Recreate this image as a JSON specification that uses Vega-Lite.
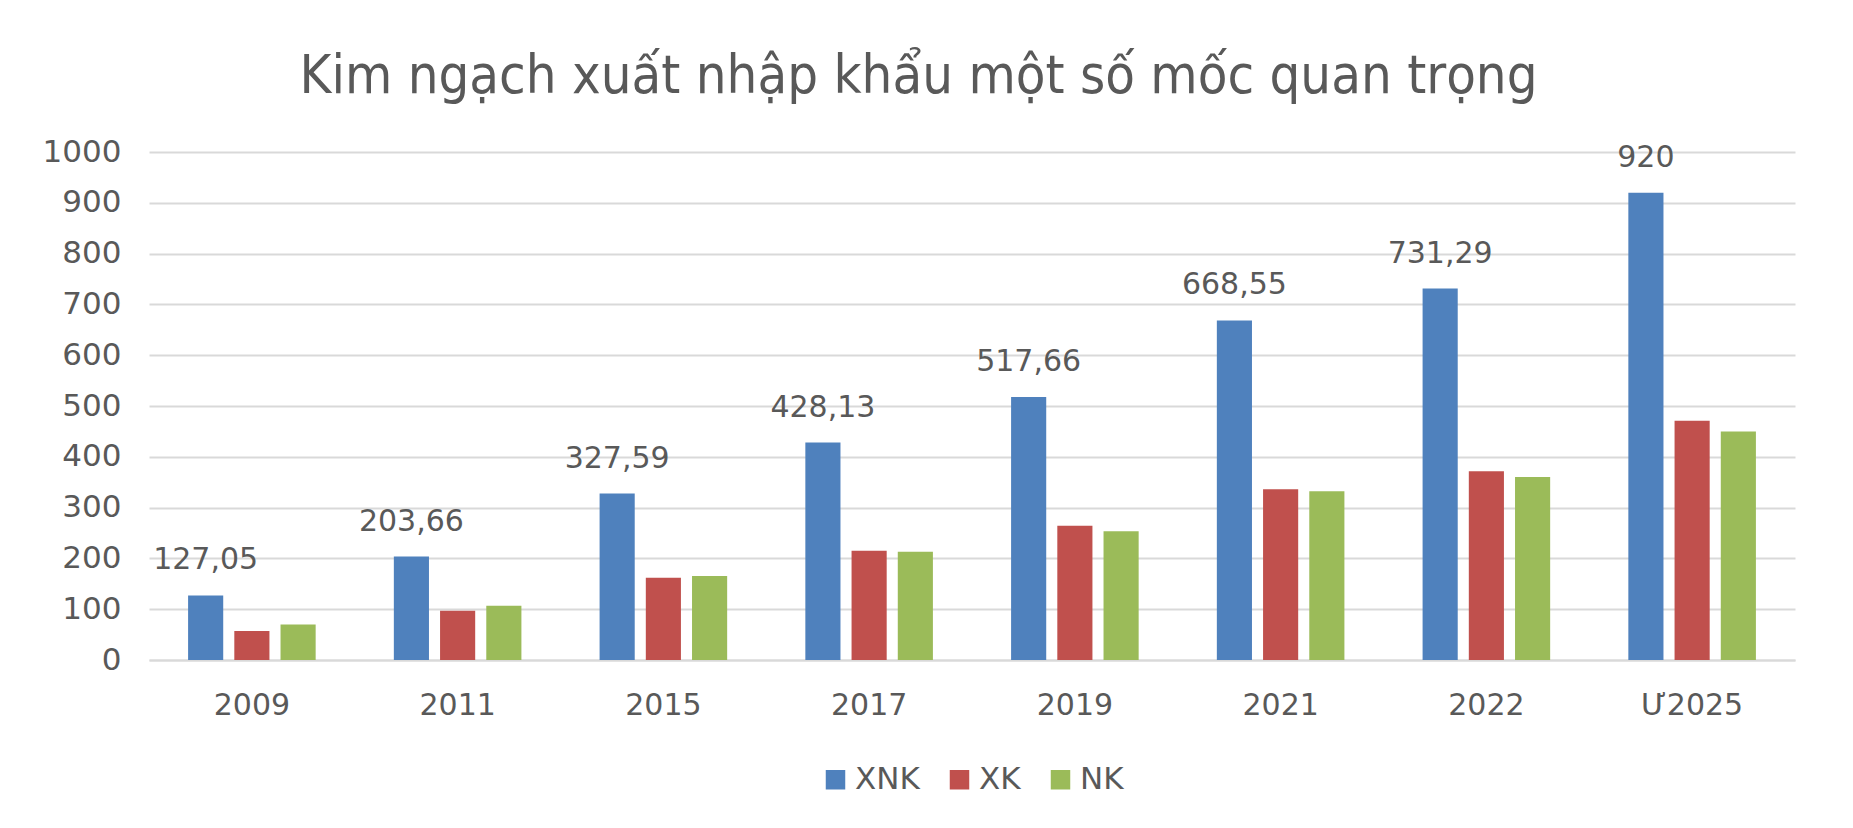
{
  "$schema": "https://vega.github.io/schema/vega-lite/v6.json",
  "width": 1646,
  "height": 508,
  "padding": {"left": 42, "top": 50, "right": 56, "bottom": 26},
  "autosize": {"type": "pad"},
  "background": "white",
  "config": {
    "locale": {"number": {"decimal": ",", "thousands": ".", "grouping": [3], "currency": ["", ""]}},
    "view": {"stroke": null},
    "font": "DejaVu Sans",
    "legend": {"layout": {"bottom": {"anchor": "middle"}}}
  },
  "title": {
    "text": "Kim ngạch xuất nhập khẩu một số mốc quan trọng",
    "font": "DejaVu Sans Condensed, Lato, sans-serif",
    "fontSize": 54,
    "fontWeight": "normal",
    "color": "#595959",
    "anchor": "middle",
    "frame": "bounds",
    "offset": 32
  },
  "data": {
    "values": [
      {"year": "2009", "series": "XNK", "value": 127.05},
      {"year": "2009", "series": "XK", "value": 57.1},
      {"year": "2009", "series": "NK", "value": 69.95},
      {"year": "2011", "series": "XNK", "value": 203.66},
      {"year": "2011", "series": "XK", "value": 96.9},
      {"year": "2011", "series": "NK", "value": 106.75},
      {"year": "2015", "series": "XNK", "value": 327.59},
      {"year": "2015", "series": "XK", "value": 162.11},
      {"year": "2015", "series": "NK", "value": 165.48},
      {"year": "2017", "series": "XNK", "value": 428.13},
      {"year": "2017", "series": "XK", "value": 215},
      {"year": "2017", "series": "NK", "value": 213},
      {"year": "2019", "series": "XNK", "value": 517.66},
      {"year": "2019", "series": "XK", "value": 264.19},
      {"year": "2019", "series": "NK", "value": 253.47},
      {"year": "2021", "series": "XNK", "value": 668.55},
      {"year": "2021", "series": "XK", "value": 336.25},
      {"year": "2021", "series": "NK", "value": 332.3},
      {"year": "2022", "series": "XNK", "value": 731.29},
      {"year": "2022", "series": "XK", "value": 371.5},
      {"year": "2022", "series": "NK", "value": 360},
      {"year": "Ư2025", "series": "XNK", "value": 920},
      {"year": "Ư2025", "series": "XK", "value": 471},
      {"year": "Ư2025", "series": "NK", "value": 450}
    ]
  },
  "encoding": {
    "x": {
      "field": "year",
      "type": "nominal",
      "sort": null,
      "scale": {"paddingInner": 0.38, "paddingOuter": 0.19},
      "axis": {
        "title": null,
        "labelAngle": 0,
        "labelFontSize": 30,
        "labelColor": "#595959",
        "labelPadding": 30,
        "ticks": false,
        "domainColor": "#D9D9D9",
        "domainWidth": 2
      }
    },
    "xOffset": {
      "field": "series",
      "type": "nominal",
      "sort": ["XNK", "XK", "NK"],
      "scale": {"paddingInner": 0.24, "paddingOuter": 0}
    },
    "y": {
      "field": "value",
      "type": "quantitative",
      "scale": {"domain": [0, 1000]},
      "axis": {
        "title": null,
        "values": [0, 100, 200, 300, 400, 500, 600, 700, 800, 900, 1000],
        "format": "d",
        "labelFontSize": 31,
        "labelColor": "#595959",
        "labelPadding": 28,
        "domain": false,
        "ticks": false,
        "gridColor": "#D9D9D9",
        "gridWidth": 2
      }
    }
  },
  "layer": [
    {
      "mark": {"type": "bar"},
      "encoding": {
        "color": {
          "field": "series",
          "type": "nominal",
          "scale": {"domain": ["XNK", "XK", "NK"], "range": ["#4F81BD", "#C0504D", "#9BBB59"]},
          "legend": {
            "title": null,
            "orient": "bottom",
            "direction": "horizontal",
            "symbolType": "square",
            "symbolSize": 380,
            "symbolStrokeWidth": 0,
            "labelFontSize": 31,
            "labelColor": "#595959",
            "labelOffset": 4,
            "columnPadding": 24,
            "offset": 44
          }
        }
      }
    },
    {
      "transform": [{"filter": "datum.series === 'XNK'"}],
      "mark": {"type": "text", "baseline": "middle", "dy": -35, "fontSize": 30, "color": "#595959"},
      "encoding": {
        "text": {"field": "value", "type": "quantitative", "format": ".2~f"}
      }
    }
  ]
}
